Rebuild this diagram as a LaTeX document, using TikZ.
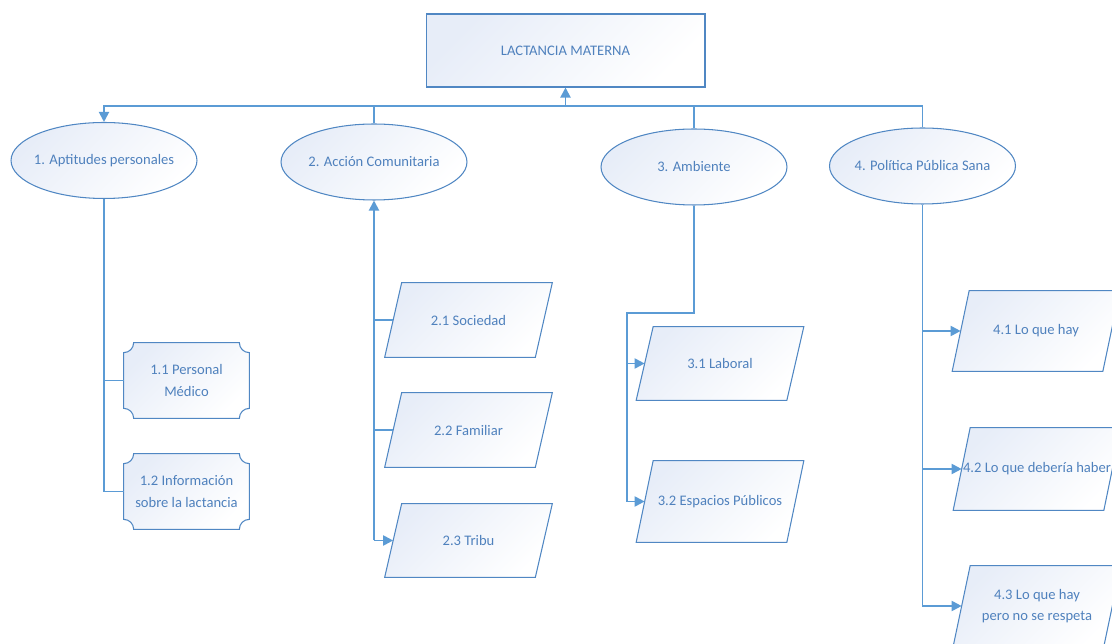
\documentclass[tikz,border=0pt]{standalone}
\usepackage{fontspec}
\setmainfont{Carlito}
\usetikzlibrary{arrows.meta,shapes.geometric,backgrounds}
\definecolor{linkblue}{RGB}{91,155,213}
\definecolor{edgeblue}{RGB}{80,135,195}
\definecolor{inkblue}{RGB}{79,129,189}
\definecolor{paleblue}{RGB}{231,237,248}
\newcommand{\plaque}[1]{%
  \path[boxfill] ([xshift=0.2cm]#1.north west) -- ([xshift=-0.2cm]#1.north east)
    arc[start angle=180,end angle=270,radius=0.2cm] -- ([yshift=0.2cm]#1.south east)
    arc[start angle=90,end angle=180,radius=0.2cm] -- ([xshift=0.2cm]#1.south west)
    arc[start angle=0,end angle=90,radius=0.2cm] -- ([yshift=-0.2cm]#1.north west)
    arc[start angle=270,end angle=360,radius=0.2cm] -- cycle;}
\newcommand{\slanted}[1]{%
  \path[boxfill] ([xshift=0.17cm]#1.north west) -- ([xshift=0.17cm]#1.north east)
    -- ([xshift=-0.17cm]#1.south east) -- ([xshift=-0.17cm]#1.south west) -- cycle;}
\newcommand{\ovaltext}[1]{\makebox[0pt]{#1}}

\begin{document}
\begin{tikzpicture}[x=0.02cm,y=-0.02cm,>={Triangle[length=2mm,width=2mm]},
  boxfill/.style={draw=edgeblue,line width=0.6pt,top color=paleblue,bottom color=white,shading angle=45},
  txt/.style={text=inkblue,font=\fontsize{8.3}{12}\selectfont,align=center,inner sep=0pt},
  oval/.style={boxfill,txt,ellipse,minimum width=3.72cm,minimum height=1.52cm},
  plq/.style={txt,minimum width=2.5cm,minimum height=1.5cm},
  par/.style={txt,minimum width=3cm},
  conn/.style={draw=linkblue,line width=1.1pt}]
  \clip[use as bounding box] (0,0) rectangle (1112,644);
  \node[boxfill,txt,minimum width=5.58cm,minimum height=1.46cm] (main) at (565.5,50.5) {LACTANCIA MATERNA};
  \node[oval] (e1) at (104,160.5) {\ovaltext{1. Aptitudes personales}};
  \node[oval] (e2) at (374,162) {\ovaltext{2. Acción Comunitaria}};
  \node[oval] (e3) at (694,167) {\ovaltext{3. Ambiente}};
  \node[oval] (e4) at (922.5,166) {\ovaltext{4. Política Pública Sana}};
  \node[plq] (p11) at (186.5,380.5) {1.1 Personal\\Médico};
  \node[plq] (p12) at (186.5,491.5) {1.2 Información\\sobre la lactancia};
  \node[par,minimum height=1.48cm] (t21) at (468.5,320) {2.1 Sociedad};
  \node[par,minimum height=1.48cm] (t22) at (468.5,430) {2.2 Familiar};
  \node[par,minimum height=1.46cm] (t23) at (468.5,540.5) {2.3 Tribu};
  \node[par,minimum height=1.46cm] (t31) at (720,363.5) {3.1 Laboral};
  \node[par,minimum height=1.62cm] (t32) at (720,501.5) {3.2 Espacios Públicos};
  \node[par,minimum height=1.6cm] (t41) at (1036,331) {4.1 Lo que hay};
  \node[par,minimum height=1.64cm] (t42) at (1037,469) {4.2 Lo que debería haber};
  \node[par,minimum height=1.6cm] (t43) at (1037,606) {4.3 Lo que hay\\pero no se respeta};
  \begin{scope}[on background layer]
    \plaque{p11} \plaque{p12}
    \slanted{t21} \slanted{t22} \slanted{t23}
    \slanted{t31} \slanted{t32}
    \slanted{t41} \slanted{t42} \slanted{t43}
  \end{scope}
  \coordinate (bus) at (0,106);
  \coordinate (k3) at (627,313);
  \draw[conn,->] (bus -| main.south) -- (main.south);
  \draw[conn,->] (e4.north) |- (bus -| e1.north) -- (e1.north);
  \draw[conn] (e2.north) -- (e2.north |- bus);
  \draw[conn] (e3.north) -- (e3.north |- bus);
  \draw[conn] (e1.south) |- (p12.west);
  \draw[conn] (e1.south |- p11.west) -- (p11.west);
  \draw[conn,->] (e2.south |- t23.west) -- (e2.south);
  \draw[conn,->] (e2.south |- t23.west) -- (t23.west);
  \draw[conn] (e2.south |- t21.west) -- (t21.west);
  \draw[conn] (e2.south |- t22.west) -- (t22.west);
  \draw[conn,->] (e3.south) |- (k3) |- (t32.west);
  \draw[conn,->] (k3 |- t31.west) -- (t31.west);
  \draw[conn,->] (e4.south) |- (t43.west);
  \draw[conn,->] (e4.south |- t41.west) -- (t41.west);
  \draw[conn,->] (e4.south |- t42.west) -- (t42.west);
\end{tikzpicture}
\end{document}
